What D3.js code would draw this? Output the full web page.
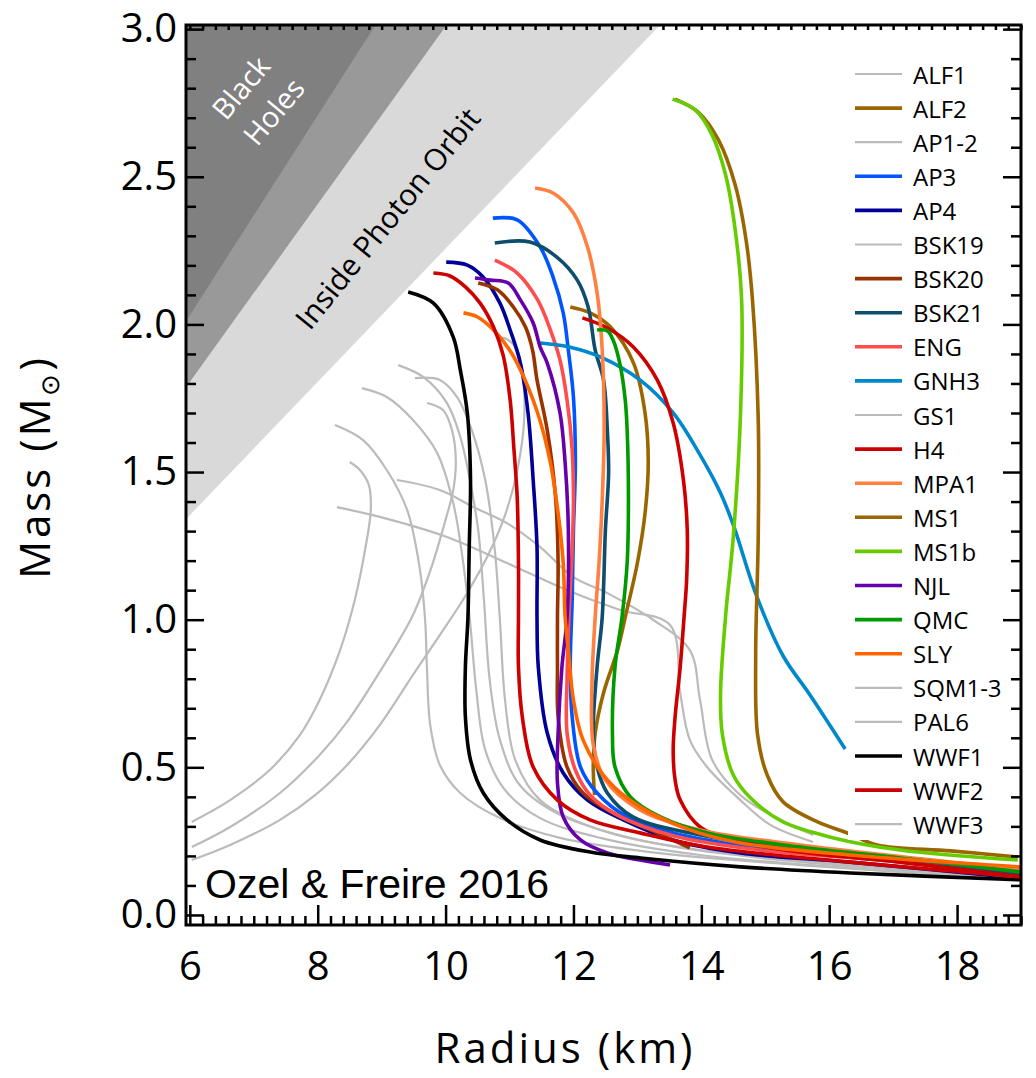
<!DOCTYPE html>
<html>
<head>
<meta charset="utf-8">
<script src="https://cdn.jsdelivr.net/npm/d3@7"></script>
<style>
  body { margin: 0; background: #fff; }
</style>
</head>
<body>
<div id="chart"></div>
<script>
// legend order, names and colours
const eosNames = ["ALF1", "ALF2", "AP1-2", "AP3", "AP4", "BSK19", "BSK20", "BSK21", "ENG", "GNH3", "GS1", "H4",
  "MPA1", "MS1", "MS1b", "NJL", "QMC", "SLY", "SQM1-3", "PAL6", "WWF1", "WWF2", "WWF3"];
const eosColors = ["#bbbbbb", "#996600", "#bbbbbb", "#0055ff", "#000099", "#bbbbbb", "#993300", "#0d4d6e", "#ff4c4c",
  "#0088cc", "#bbbbbb", "#cc0000", "#ff8040", "#996600", "#66cc00", "#6600aa", "#009900", "#ff6600", "#bbbbbb",
  "#bbbbbb", "#000000", "#cc0000", "#bbbbbb"];

// mass-radius curves, [radius km, mass Msun]
// grey ones first
const alf1 = [[9.24,1.473],[9.91,1.439],[10.43,1.382],[10.96,1.327],[11.48,1.246],[12.00,1.144],[12.53,1.090],[13.25,0.999],[13.82,0.897],[13.98,0.728],[14.17,0.525],[14.61,0.406],[15.23,0.322],[15.75,0.271]];
const ap1 = [[8.30,1.381],[8.97,1.348],[10.02,1.280],[10.96,1.192],[11.90,1.100],[12.73,1.033],[13.51,0.982],[13.67,0.752],[13.82,0.593],[14.09,0.501],[14.61,0.389],[15.08,0.305],[15.75,0.247]];
const ap2 = [[8.27,1.659],[8.71,1.608],[9.08,1.507],[9.40,1.371],[9.60,1.168],[9.68,0.999],[9.71,0.830],[9.76,0.643],[9.91,0.508],[10.23,0.413],[10.85,0.328],[11.79,0.261],[13.20,0.213],[15.55,0.169],[18.99,0.119]];
const bsk19 = [[8.69,1.784],[9.08,1.754],[9.49,1.676],[9.87,1.564],[10.12,1.395],[10.27,1.202],[10.38,0.999],[10.48,0.762],[10.62,0.559],[10.93,0.423],[11.48,0.328],[12.42,0.261],[13.98,0.203],[18.99,0.119]];
const pal6 = [[9.52,1.818],[9.91,1.812],[10.18,1.754],[10.41,1.642],[10.62,1.473],[10.77,1.236],[10.85,0.999],[10.93,0.728],[11.09,0.525],[11.48,0.389],[12.42,0.288],[13.98,0.220],[18.99,0.129]];
const wwf3 = [[9.26,1.862],[9.65,1.822],[10.02,1.734],[10.23,1.619],[10.38,1.473],[10.51,1.304],[10.60,1.067],[10.69,0.796],[10.85,0.593],[11.16,0.440],[11.79,0.339],[13.04,0.254],[14.92,0.193],[18.99,0.125]];
const sqm1 = [[6.03,0.315],[6.63,0.389],[7.25,0.491],[7.72,0.609],[8.03,0.728],[8.35,0.897],[8.58,1.067],[8.74,1.236],[8.83,1.371],[8.80,1.456],[8.66,1.507],[8.50,1.534]];
const sqm2 = [[6.03,0.230],[6.63,0.298],[7.41,0.413],[8.03,0.542],[8.46,0.654],[8.97,0.823],[9.49,1.016],[9.79,1.185],[9.99,1.331],[10.12,1.439],[10.16,1.541],[10.10,1.642],[9.96,1.710],[9.71,1.734]];
const sqm3 = [[6.03,0.186],[6.63,0.237],[7.41,0.322],[7.96,0.406],[8.46,0.508],[8.97,0.643],[9.49,0.813],[9.91,0.948],[10.30,1.077],[10.65,1.212],[10.93,1.354],[11.13,1.514],[11.23,1.683],[11.21,1.828],[11.12,1.913],[10.96,1.950],[10.80,1.957]];

// coloured ones
const alf2 = [[11.95,2.059],[12.26,2.039],[12.58,1.991],[12.94,1.869],[13.12,1.700],[13.17,1.531],[13.12,1.361],[13.00,1.192],[12.81,1.009],[12.69,0.897],[12.47,0.752],[12.34,0.616],[12.31,0.501],[12.33,0.406]];
const ap3 = [[10.74,2.360],[11.12,2.354],[11.48,2.262],[11.68,2.161],[11.84,2.039],[11.92,1.913],[12.00,1.754],[12.03,1.531],[12.00,1.304],[11.98,1.067],[11.95,0.840],[11.98,0.671],[12.11,0.501],[12.37,0.413],[12.84,0.332],[13.56,0.278],[14.92,0.227],[17.11,0.186],[18.99,0.135]];
const ap4 = [[10.01,2.211],[10.34,2.201],[10.59,2.160],[10.85,2.072],[11.01,1.981],[11.17,1.869],[11.29,1.700],[11.37,1.473],[11.43,1.246],[11.43,1.009],[11.45,0.840],[11.59,0.616],[11.84,0.481],[12.22,0.389],[12.78,0.322],[13.56,0.254],[14.61,0.210],[16.33,0.179],[18.99,0.125]];
const bsk20 = [[10.51,2.140],[10.81,2.117],[11.06,2.059],[11.25,1.991],[11.36,1.913],[11.43,1.812],[11.59,1.642],[11.72,1.416],[11.76,1.192],[11.75,1.009],[11.75,0.840],[11.76,0.671],[11.90,0.501],[12.15,0.413],[12.62,0.345],[13.31,0.278],[13.82,0.227]];
const bsk21 = [[10.77,2.276],[11.32,2.279],[11.74,2.228],[12.06,2.150],[12.23,2.059],[12.34,1.913],[12.47,1.812],[12.53,1.642],[12.55,1.497],[12.50,1.304],[12.45,1.009],[12.37,0.840],[12.31,0.616],[12.37,0.501],[12.53,0.413],[12.93,0.332],[13.98,0.271],[15.55,0.220],[18.99,0.135]];
const eng = [[10.77,2.218],[11.12,2.174],[11.44,2.083],[11.64,1.981],[11.79,1.879],[11.90,1.744],[11.98,1.575],[12.00,1.405],[11.98,1.236],[11.93,1.009],[11.90,0.796],[11.90,0.616],[12.03,0.491],[12.26,0.406],[12.68,0.339],[13.56,0.268],[14.92,0.220],[17.11,0.179],[18.99,0.125]];
const gnh3 = [[11.48,1.937],[11.95,1.923],[12.42,1.890],[13.04,1.812],[13.56,1.700],[13.98,1.558],[14.30,1.429],[14.50,1.321],[14.87,1.077],[15.28,0.877],[15.70,0.745],[16.25,0.562]];
const h4 = [[12.14,2.022],[12.53,1.988],[12.94,1.923],[13.31,1.812],[13.56,1.666],[13.72,1.473],[13.78,1.304],[13.77,1.134],[13.73,1.009],[13.67,0.840],[13.59,0.671],[13.56,0.559],[13.59,0.457],[13.67,0.389],[13.98,0.298],[14.50,0.254],[15.55,0.213],[17.11,0.179],[18.99,0.129]];
const mpa1 = [[11.40,2.462],[11.68,2.445],[12.00,2.377],[12.22,2.262],[12.37,2.106],[12.45,1.913],[12.48,1.642],[12.45,1.405],[12.40,1.192],[12.34,1.009],[12.29,0.786],[12.31,0.576],[12.50,0.457],[13.04,0.356],[13.98,0.288],[15.55,0.237],[18.99,0.155]];
const ms1 = [[13.59,2.763],[13.95,2.719],[14.27,2.624],[14.53,2.472],[14.70,2.286],[14.80,2.083],[14.89,1.680],[14.89,1.280],[14.85,0.877],[14.88,0.610],[15.03,0.474],[15.28,0.383],[15.82,0.315],[16.33,0.274],[16.75,0.237],[17.90,0.217],[18.95,0.196]];
const ms1b = [[13.55,2.763],[13.91,2.726],[14.17,2.641],[14.38,2.506],[14.53,2.320],[14.63,2.083],[14.61,1.680],[14.50,1.280],[14.38,1.013],[14.30,0.745],[14.33,0.610],[14.50,0.474],[14.77,0.396],[15.28,0.315],[16.07,0.261],[17.11,0.220],[18.95,0.186]];
const njl = [[10.46,2.157],[10.70,2.150],[10.98,2.140],[11.17,2.083],[11.37,2.005],[11.48,1.923],[11.59,1.869],[11.79,1.700],[11.87,1.531],[11.92,1.304],[11.90,1.009],[11.82,0.840],[11.76,0.616],[11.75,0.447],[11.84,0.332],[12.11,0.254],[12.53,0.210],[13.04,0.186],[13.51,0.169]];
const qmc = [[12.37,1.981],[12.53,1.978],[12.62,1.947],[12.73,1.863],[12.81,1.744],[12.84,1.642],[12.86,1.416],[12.84,1.192],[12.76,1.009],[12.65,0.840],[12.61,0.616],[12.65,0.501],[12.89,0.400],[13.36,0.332],[14.09,0.278],[15.55,0.230],[17.11,0.193],[18.99,0.146]];
const sly = [[10.28,2.039],[10.50,2.025],[10.75,1.981],[10.97,1.923],[11.12,1.869],[11.44,1.700],[11.64,1.531],[11.76,1.361],[11.84,1.192],[11.87,1.009],[11.92,0.897],[12.00,0.728],[12.15,0.593],[12.53,0.457],[13.04,0.366],[13.82,0.288],[14.61,0.244],[16.33,0.203],[18.99,0.163]];
const wwf1 = [[9.415,2.110],[9.81,2.072],[10.12,1.957],[10.23,1.846],[10.34,1.700],[10.39,1.473],[10.37,1.246],[10.35,1.009],[10.31,0.840],[10.31,0.670],[10.39,0.525],[10.59,0.413],[10.96,0.322],[11.48,0.254],[12.26,0.213],[13.05,0.193],[14.61,0.163],[16.33,0.142],[18.99,0.119]];
const wwf2 = [[9.81,2.174],[10.07,2.164],[10.31,2.127],[10.54,2.072],[10.75,1.991],[10.90,1.896],[11.01,1.744],[11.07,1.575],[11.12,1.416],[11.14,1.192],[11.14,1.009],[11.14,0.840],[11.20,0.671],[11.37,0.501],[11.75,0.389],[12.26,0.322],[13.04,0.278],[14.09,0.230],[16.33,0.179],[18.99,0.129]];

const curves = [
  { name: "ALF1", pts: alf1 }, { name: "AP1-2", pts: ap1 }, { name: "AP1-2", pts: ap2 },
  { name: "BSK19", pts: bsk19 }, { name: "PAL6", pts: pal6 }, { name: "WWF3", pts: wwf3 },
  { name: "SQM1-3", pts: sqm1 }, { name: "SQM1-3", pts: sqm2 }, { name: "SQM1-3", pts: sqm3 },
  { name: "ALF2", pts: alf2 }, { name: "AP3", pts: ap3 }, { name: "AP4", pts: ap4 },
  { name: "BSK20", pts: bsk20 }, { name: "BSK21", pts: bsk21 }, { name: "ENG", pts: eng },
  { name: "GNH3", pts: gnh3 }, { name: "H4", pts: h4 }, { name: "MPA1", pts: mpa1 },
  { name: "MS1", pts: ms1 }, { name: "MS1b", pts: ms1b }, { name: "NJL", pts: njl },
  { name: "QMC", pts: qmc }, { name: "SLY", pts: sly }, { name: "WWF1", pts: wwf1 },
  { name: "WWF2", pts: wwf2 }
];

// R = k * M lines (km per solar mass): photon orbit, Buchdahl, black hole
const limitSlopes = [4.431, 3.323, 2.954];
const limitFills = ["#d9d9d9", "#999999", "#808080"];

const xTicks = [6, 8, 10, 12, 14, 16, 18];
const yTicks = [0, 0.5, 1.0, 1.5, 2.0, 2.5, 3.0];

const width = 1036;
const height = 1078;
const plotLeft = 186, plotRight = 1021, plotTop = 25, plotBottom = 925;
const font = "'Open Sans', sans-serif";

const svg = d3.select("#chart").append("svg")
  .attr("width", width)
  .attr("height", height)
  .style("font-family", font);

const x = d3.scaleLinear().domain([5.94, 19.0]).range([plotLeft, plotRight]);
const y = d3.scaleLinear().domain([-0.034, 3.014]).range([plotBottom, plotTop]);
const xMin = x.domain()[0], yMax = y.domain()[1];

svg.append("clipPath").attr("id", "plotclip")
  .append("rect").attr("x", plotLeft).attr("y", plotTop)
  .attr("width", plotRight - plotLeft).attr("height", plotBottom - plotTop);

const plot = svg.append("g").attr("clip-path", "url(#plotclip)");

// shaded regions
plot.selectAll("path.zone")
  .data(limitSlopes)
  .join("path")
  .attr("class", "zone")
  .attr("fill", (d, i) => limitFills[i])
  .attr("d", k => d3.line()([[x(xMin), y(xMin / k)], [x(yMax * k), y(yMax)], [x(xMin), y(yMax)]]) + "Z");

// curves
const line = d3.line()
  .x(d => x(d[0]))
  .y(d => y(d[1]))
  .curve(d3.curveCatmullRom.alpha(0.5));

const colorOf = name => eosColors[eosNames.indexOf(name)];

plot.selectAll("path.eos")
  .data(curves)
  .join("path")
  .attr("class", "eos")
  .attr("fill", "none")
  .attr("stroke", d => colorOf(d.name))
  .attr("stroke-width", d => colorOf(d.name) === "#bbbbbb" ? 2.2 : 3.6)
  .attr("stroke-linejoin", "round")
  .attr("d", d => line(d.pts));

// labels on the shaded regions
svg.append("text")
  .attr("transform", "translate(240,87) rotate(-50)")
  .attr("text-anchor", "middle").attr("dominant-baseline", "central")
  .attr("fill", "white").attr("font-size", 29)
  .text("Black");
svg.append("text")
  .attr("transform", "translate(273,111) rotate(-50)")
  .attr("text-anchor", "middle").attr("dominant-baseline", "central")
  .attr("fill", "white").attr("font-size", 29)
  .text("Holes");
svg.append("text")
  .attr("transform", "translate(387,218) rotate(-51)")
  .attr("text-anchor", "middle").attr("dominant-baseline", "central")
  .attr("fill", "black").attr("font-size", 30)
  .text("Inside Photon Orbit");

// legend
const legend = svg.append("g");
legend.append("rect")
  .attr("x", 848).attr("y", 57).attr("width", 170).attr("height", 783)
  .attr("fill", "white");
const rowH = 34.1;
const items = legend.selectAll("g.item")
  .data(eosNames)
  .join("g")
  .attr("class", "item")
  .attr("transform", (d, i) => `translate(0, ${74 + i * rowH})`);
items.append("line")
  .attr("x1", 855).attr("x2", 902)
  .attr("stroke", (d, i) => eosColors[i])
  .attr("stroke-width", (d, i) => eosColors[i] === "#bbbbbb" ? 2.2 : 3.6);
items.append("text")
  .attr("x", 913)
  .attr("dominant-baseline", "central")
  .attr("font-size", 24)
  .text(d => d);

// axes, ticks inside
const yMinor = d3.range(0, 31).filter(i => i % 5 !== 0).map(i => i / 10);
const xMinor = d3.range(30, 96).filter(i => i % 10 !== 0).map(i => i / 5);
const xAll = d3.range(30, 96).map(i => i / 5);

function clean(g) {
  g.select(".domain").remove();
  g.selectAll("line").attr("stroke", "black").attr("stroke-width", 2.5);
}

svg.append("g")
  .attr("transform", `translate(${plotLeft},0)`)
  .call(d3.axisLeft(y).tickValues(yTicks).tickSize(-18).tickPadding(9).tickFormat(d3.format(".1f")))
  .call(clean)
  .call(g => g.selectAll("text").attr("font-size", 40).attr("fill", "black").attr("font-family", font));
svg.append("g")
  .attr("transform", `translate(${plotLeft},0)`)
  .call(d3.axisLeft(y).tickValues(yMinor).tickSize(-10).tickFormat(""))
  .call(clean);

svg.append("g")
  .attr("transform", `translate(${plotRight},0)`)
  .call(d3.axisRight(y).tickValues(yTicks).tickSize(-18).tickFormat(""))
  .call(clean);
svg.append("g")
  .attr("transform", `translate(${plotRight},0)`)
  .call(d3.axisRight(y).tickValues(yMinor).tickSize(-10).tickFormat(""))
  .call(clean);

svg.append("g")
  .attr("transform", `translate(0,${plotBottom})`)
  .call(d3.axisBottom(x).tickValues(xTicks).tickSize(-20).tickPadding(27).tickFormat(d3.format("d")))
  .call(clean)
  .call(g => g.selectAll("text").attr("font-size", 40).attr("fill", "black").attr("font-family", font));
svg.append("g")
  .attr("transform", `translate(0,${plotBottom})`)
  .call(d3.axisBottom(x).tickValues(xMinor).tickSize(-9).tickFormat(""))
  .call(clean);

svg.append("g")
  .attr("transform", `translate(0,${plotTop})`)
  .call(d3.axisTop(x).tickValues(xAll).tickSize(-5).tickFormat(""))
  .call(clean);

// frame
svg.append("rect")
  .attr("x", plotLeft).attr("y", plotTop)
  .attr("width", plotRight - plotLeft).attr("height", plotBottom - plotTop)
  .attr("fill", "none").attr("stroke", "black").attr("stroke-width", 3);

// axis titles
svg.append("text")
  .attr("x", 565).attr("y", 1063)
  .attr("text-anchor", "middle").attr("font-size", 42)
  .attr("letter-spacing", 3)
  .text("Radius (km)");

const yTitle = svg.append("text")
  .attr("transform", "translate(50,467) rotate(-90)")
  .attr("text-anchor", "middle").attr("font-size", 42)
  .attr("letter-spacing", 3);
yTitle.append("tspan").text("Mass (M");
yTitle.append("tspan").attr("font-size", 26).attr("dy", 9).text("\u2299");
yTitle.append("tspan").attr("dy", -9).text(")");

// credit
svg.append("text")
  .attr("x", 205).attr("y", 898)
  .attr("font-family", "'Liberation Sans', Arial, sans-serif")
  .attr("font-size", 41)
  .text("Ozel & Freire 2016");
</script>
</body>
</html>
